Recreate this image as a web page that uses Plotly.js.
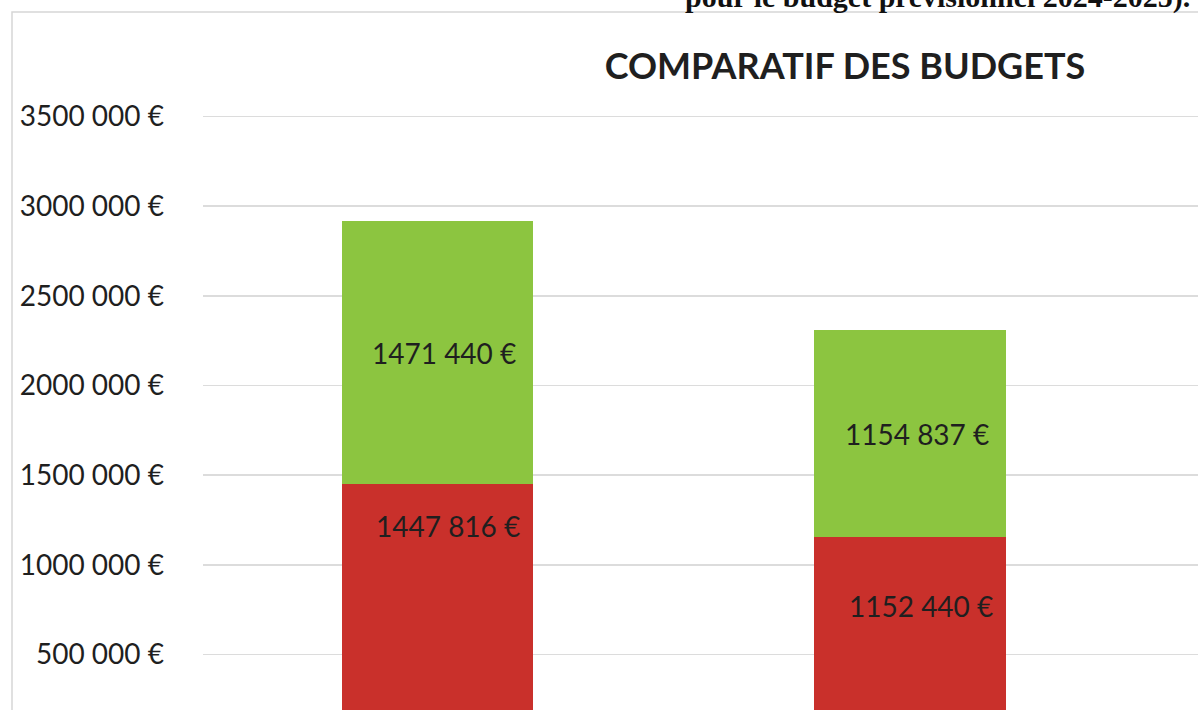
<!DOCTYPE html>
<html>
<head>
<meta charset="utf-8">
<script src="https://cdn.plot.ly/plotly-3.0.1.min.js"></script>
<style>
  html, body { margin: 0; padding: 0; background: #ffffff; }
  #chart { width: 1198px; height: 710px; }
</style>
</head>
<body>
<div id="chart"></div>
<script>
// ---- data ----
const categories = ["Budget 2023-2024", "Budget prévisionnel 2024-2025"];
const redValues = [1447816, 1152440];
const greenValues = [1471440, 1154837];
const redLabels = ["1447 816 €", "1152 440 €"];
const greenLabels = ["1471 440 €", "1154 837 €"];
const tickValues = [500000, 1000000, 1500000, 2000000, 2500000, 3000000, 3500000];
const tickLabels = ["500 000 €", "1000 000 €", "1500 000 €", "2000 000 €", "2500 000 €", "3000 000 €", "3500 000 €"];
const chartTitle = "COMPARATIF DES BUDGETS";
const headerFragment = "pour le budget prévisionnel 2024-2025).";

// ---- style ----
const GREEN = "#8cc540";
const RED = "#c9302b";
const TEXT = "#1f1f1f";
const FONT = "Lato, 'Open Sans', sans-serif";
const redLabelFrac = [0.84, 0.67];

const traces = [
  {
    type: "bar", x: categories, y: redValues, name: "rouge",
    marker: { color: RED, line: { width: 0 } }, hoverinfo: "skip"
  },
  {
    type: "bar", x: categories, y: greenValues, name: "vert",
    marker: { color: GREEN, line: { width: 0 } }, hoverinfo: "skip"
  }
];

const annotations = [];
categories.forEach((c, i) => {
  annotations.push({
    x: c, y: redValues[i] + greenValues[i] / 2, xref: "x", yref: "y",
    text: greenLabels[i], showarrow: false, xshift: 7,
    font: { family: FONT, size: 28, color: TEXT }
  });
  annotations.push({
    x: c, y: redValues[i] * redLabelFrac[i], xref: "x", yref: "y",
    text: redLabels[i], showarrow: false, xshift: 11,
    font: { family: FONT, size: 28, color: TEXT }
  });
});
annotations.push({
  x: (683 - 203) / 995, y: 1 + 3 / 710, xref: "paper", yref: "paper",
  xanchor: "left", yanchor: "middle", showarrow: false,
  text: "<b>" + headerFragment + "</b>",
  font: { family: "Liberation Serif", size: 30, color: "#111111" }
});

const layout = {
  width: 1198, height: 710,
  margin: { l: 203, r: 0, t: 0, b: 0, pad: 0 },
  paper_bgcolor: "#ffffff", plot_bgcolor: "rgba(0,0,0,0)",
  showlegend: false,
  barmode: "stack",
  bargap: 0.596,
  title: {
    text: "<b>" + chartTitle + "</b>",
    x: 845 / 1198, xref: "container", xanchor: "center",
    y: 1 - 66 / 710, yref: "container", yanchor: "middle",
    font: { family: FONT, size: 36, color: TEXT }
  },
  xaxis: {
    type: "category", range: [-0.495, 1.609],
    showticklabels: false, showgrid: false, zeroline: false, showline: false, ticks: ""
  },
  yaxis: {
    range: [190000, 4150000],
    tickmode: "array", tickvals: tickValues, ticktext: tickLabels,
    ticks: "", ticklabelstandoff: 38,
    tickfont: { family: FONT, size: 28, color: TEXT },
    showgrid: true, gridcolor: "#dcdcdc", gridwidth: 1.5,
    zeroline: false, showline: false
  },
  shapes: [
    {
      type: "rect", xref: "paper", yref: "paper",
      x0: (12 - 203) / 995, x1: 1.2, y0: -0.2, y1: 1 - 12 / 710,
      line: { color: "#d6d6d6", width: 1.5 }, fillcolor: "rgba(0,0,0,0)", layer: "below"
    }
  ],
  annotations: annotations
};

Plotly.newPlot("chart", traces, layout, { displayModeBar: false, staticPlot: true });
</script>
</body>
</html>
